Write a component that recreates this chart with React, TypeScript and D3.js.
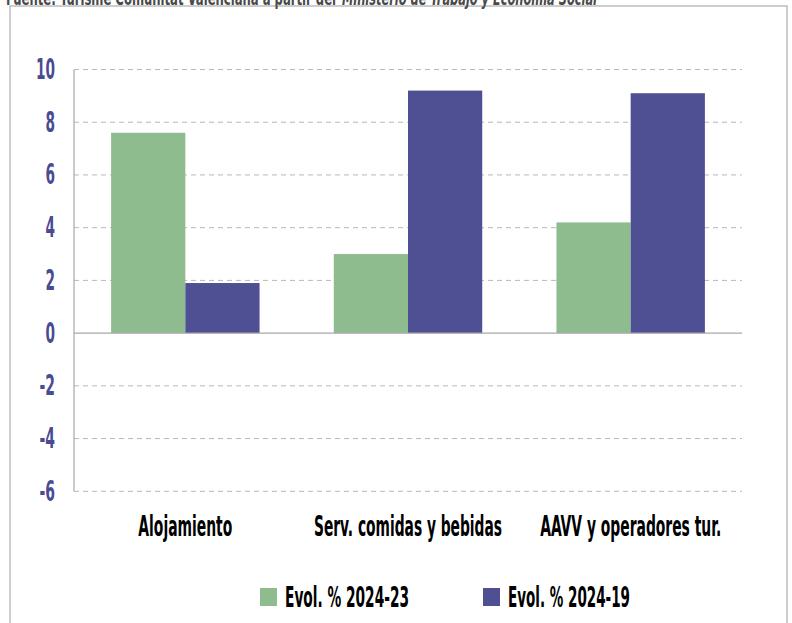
import React from "react";
import * as d3 from "d3";

const categories = ["Alojamiento", "Serv. comidas y bebidas", "AAVV y operadores tur."];
const seriesNames = ["Evol. % 2024-23", "Evol. % 2024-19"];
const evol2023 = [7.6, 3.0, 4.2];
const evol2019 = [1.9, 9.2, 9.1];
const yTicks = [-6, -4, -2, 0, 2, 4, 6, 8, 10];

const colors = ["#8fbc8f", "#4f4f94"];
const FONT = "'Liberation Sans Narrow', 'DejaVu Sans Condensed', sans-serif";

// measured label widths from the reference (font is much narrower than what we have)
const catWidths = [94, 188, 181];
const legendWidths = [124, 122];

export default function App() {
  const width = 792;
  const height = 623;

  const x = d3
    .scaleBand<string>()
    .domain(categories)
    .range([74, 742])
    .paddingInner(1 / 3)
    .paddingOuter(1 / 6);

  const xSub = d3
    .scaleBand<string>()
    .domain(seriesNames)
    .range([0, x.bandwidth()])
    .padding(0);

  const y = d3.scaleLinear().domain([-6, 10]).range([491.3, 69.5]);

  const series = [evol2023, evol2019];

  const tickWidth = (s: string) =>
    s.replace("-", "").length * 9.5 + (s.startsWith("-") ? 6 : 0);

  return (
    <svg
      width={width}
      height={height}
      style={{ position: "absolute", left: 0, top: 0, background: "#fff" }}
      fontFamily={FONT}
      fontWeight="bold"
    >
      {/* frame */}
      <rect x={10} y={6} width={777} height={640} fill="none" stroke="#bdbdbd" strokeWidth={1.5} />

      {/* source line, cut at the top */}
      <text x={6} y={5} fontSize={20} fill="#4a4a4a" textLength={330} lengthAdjust="spacingAndGlyphs">
        Fuente: Turisme Comunitat Valenciana a partir del
      </text>
      <text
        x={342}
        y={5}
        fontSize={20}
        fill="#4a4a4a"
        fontStyle="italic"
        textLength={255}
        lengthAdjust="spacingAndGlyphs"
      >
        Ministerio de Trabajo y Economía Social
      </text>

      {/* grid */}
      {yTicks
        .filter((t) => t !== 0)
        .map((t) => (
          <line
            key={t}
            x1={74}
            x2={742}
            y1={y(t)}
            y2={y(t)}
            stroke="#b8b8b8"
            strokeWidth={1}
            strokeDasharray="5,4"
          />
        ))}

      {/* bars */}
      {categories.map((c, i) =>
        series.map((s, j) => (
          <rect
            key={c + j}
            x={(x(c) ?? 0) + (xSub(seriesNames[j]) ?? 0)}
            y={y(Math.max(0, s[i]))}
            width={xSub.bandwidth()}
            height={Math.abs(y(s[i]) - y(0))}
            fill={colors[j]}
          />
        ))
      )}

      {/* zero line and y axis */}
      <line x1={74} x2={742} y1={y(0)} y2={y(0)} stroke="#a8a8a8" strokeWidth={1.2} />
      <line x1={74} x2={74} y1={y(10)} y2={y(-6)} stroke="#a8a8a8" strokeWidth={1.2} />

      {/* y tick labels */}
      {yTicks.map((t) => {
        const s = String(t);
        return (
          <text
            key={t}
            x={55}
            y={y(t) + 9.5}
            textAnchor="end"
            fontSize={29}
            fill="#4b4b93"
            textLength={tickWidth(s)}
            lengthAdjust="spacingAndGlyphs"
          >
            {s}
          </text>
        );
      })}

      {/* category labels */}
      {categories.map((c, i) => (
        <text
          key={c}
          x={(x(c) ?? 0) + x.bandwidth() / 2}
          y={536}
          textAnchor="middle"
          fontSize={29}
          fill="#000"
          textLength={catWidths[i]}
          lengthAdjust="spacingAndGlyphs"
        >
          {c}
        </text>
      ))}

      {/* legend */}
      {seriesNames.map((n, j) => {
        const lx = [260, 483][j];
        return (
          <g key={n}>
            <rect x={lx} y={588} width={17} height={18} fill={colors[j]} />
            <text
              x={lx + 25}
              y={607}
              fontSize={29}
              fill="#000"
              textLength={legendWidths[j]}
              lengthAdjust="spacingAndGlyphs"
            >
              {n}
            </text>
          </g>
        );
      })}
    </svg>
  );
}
